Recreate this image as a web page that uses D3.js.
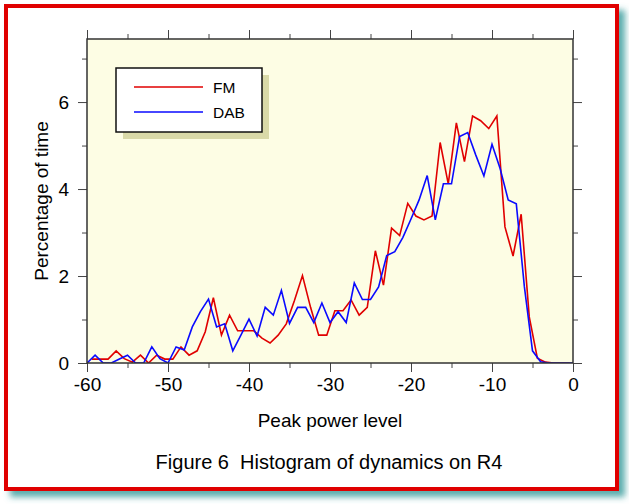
<!DOCTYPE html>
<html><head><meta charset="utf-8">
<script src="https://cdn.jsdelivr.net/npm/d3@7"></script>
<style>body{margin:0;background:#fff;}svg{display:block;font-family:"Liberation Sans",Arial,sans-serif;}</style>
</head><body>
<script>
// DAB histogram at integer levels -60..0
const dabLevels = d3.range(-60, 1);
const dabValues = [0,0.18,0,0,0.09,0.18,0,0,0.37,0.1,
  0,0.37,0.3,0.83,1.18,1.47,0.83,0.9,0.28,0.64,
  1.01,0.62,1.28,1.1,1.67,0.91,1.28,1.28,0.93,1.38,
  0.93,1.18,0.93,1.84,1.46,1.46,1.75,2.47,2.56,2.89,
  3.31,3.75,4.31,3.29,4.12,4.12,5.21,5.3,4.78,4.3,
  5.03,4.47,3.75,3.66,1.75,0.28,0.03,0,0,0,0];
// FM histogram, levels offset by 0.6 dB
const fmLevels = [-59.4,-58.4,-57.4,-56.4,-55.4,-54.4,-53.4,-52.4,-51.4,-50.4,
  -49.4,-48.4,-47.4,-46.4,-45.4,-44.4,-43.4,-42.4,-41.4,-40.4,
  -39.4,-38.4,-37.4,-36.4,-35.4,-34.4,-33.4,-32.4,-31.4,-30.4,
  -29.4,-28.4,-27.4,-26.4,-25.4,-24.4,-23.4,-22.4,-21.4,-20.4,
  -19.4,-18.4,-17.4,-16.4,-15.4,-14.4,-13.4,-12.4,-11.4,-10.4,
  -9.4,-8.4,-7.4,-6.4,-5.4,-4.4,-3.4,-2.4,-1.4,-0.4];
const fmValues = [0.09,0.09,0.09,0.28,0.1,0.02,0.18,0,0.18,0.09,
  0.09,0.37,0.18,0.28,0.72,1.5,0.64,1.1,0.74,0.74,
  0.74,0.57,0.46,0.64,0.9,1.43,2.01,1.28,0.64,0.64,
  1.2,1.2,1.45,1.1,1.28,2.58,1.79,3.1,2.93,3.67,
  3.38,3.29,3.38,5.07,4.12,5.52,4.63,5.68,5.57,5.39,
  5.68,3.13,2.46,3.42,1.06,0.11,0.02,0,0,0];
const xMajorTicks = [-60,-50,-40,-30,-20,-10,0];
const xMinorTicks = [-55,-45,-35,-25,-15,-5];
const yMajorTicks = [0,2,4,6];
const yMinorTicks = [1,3,5,7];
const seriesNames = ["FM","DAB"];
const seriesColors = ["#e00000","#0a0aff"];
const xTitle = "Peak power level";
const yTitle = "Percentage of time";
const caption = "Figure 6  Histogram of dynamics on R4";

const W = 629, H = 504;
const L = 87, R = 573, T = 39, B = 363;

const svg = d3.select("body").append("svg").attr("width", W).attr("height", H);
const defs = svg.append("defs");
const f = defs.append("filter").attr("id","sh").attr("x","-5%").attr("y","-5%").attr("width","115%").attr("height","115%");
f.append("feDropShadow").attr("dx",6).attr("dy",6).attr("stdDeviation",3).attr("flood-color","#3f9f9f").attr("flood-opacity",0.85);
defs.append("clipPath").attr("id","clip").append("rect").attr("x",L).attr("y",T).attr("width",R-L).attr("height",B-T);

svg.append("rect").attr("x",0).attr("y",0).attr("width",W).attr("height",H).attr("fill","#fff");
svg.append("rect").attr("x",6).attr("y",6).attr("width",611).attr("height",483)
  .attr("fill","#fff").attr("stroke","#e00000").attr("stroke-width",4).attr("filter","url(#sh)");

const x = d3.scaleLinear().domain([-60,0]).range([L,R]);
const y = d3.scaleLinear().domain([0,7.45]).range([B,T]);

svg.append("rect").attr("x",L).attr("y",T).attr("width",R-L).attr("height",B-T).attr("fill","#fdfde4");

const g = svg.append("g").attr("clip-path","url(#clip)");
const line = d3.line().x(d=>x(d[0])).y(d=>y(d[1]));
g.append("path").datum(fmLevels.map((v,i)=>[v,fmValues[i]])).attr("d",line)
  .attr("fill","none").attr("stroke",seriesColors[0]).attr("stroke-width",1.6);
g.append("path").datum(dabLevels.map((v,i)=>[v,dabValues[i]])).attr("d",line)
  .attr("fill","none").attr("stroke",seriesColors[1]).attr("stroke-width",1.6);

// axes
const axColor = "#444";
const fmt = d => String(d);
function addAxis(axis, tx, ty){
  const a = svg.append("g").attr("transform",`translate(${tx},${ty})`).call(axis);
  a.select(".domain").remove();
  a.selectAll(".tick line").attr("stroke",axColor).attr("stroke-width",1);
  return a;
}
const bx = addAxis(d3.axisBottom(x).tickValues(xMajorTicks).tickSize(9).tickPadding(6).tickFormat(fmt),0,B);
bx.selectAll("text").attr("font-size",19).attr("fill","#000").attr("font-family","Liberation Sans, Arial, sans-serif");
addAxis(d3.axisBottom(x).tickValues(xMinorTicks).tickSize(5).tickFormat(""),0,B);
addAxis(d3.axisTop(x).tickValues(xMajorTicks).tickSize(9).tickFormat(""),0,T);
addAxis(d3.axisTop(x).tickValues(xMinorTicks).tickSize(5).tickFormat(""),0,T);
const ly = addAxis(d3.axisLeft(y).tickValues(yMajorTicks).tickSize(9).tickPadding(9).tickFormat(fmt),L,0);
ly.selectAll("text").attr("font-size",19).attr("fill","#000").attr("font-family","Liberation Sans, Arial, sans-serif");
addAxis(d3.axisLeft(y).tickValues(yMinorTicks).tickSize(5).tickFormat(""),L,0);
addAxis(d3.axisRight(y).tickValues(yMajorTicks).tickSize(9).tickFormat(""),R,0);
addAxis(d3.axisRight(y).tickValues(yMinorTicks).tickSize(5).tickFormat(""),R,0);

svg.append("rect").attr("x",L).attr("y",T).attr("width",R-L).attr("height",B-T)
  .attr("fill","none").attr("stroke","#333").attr("stroke-width",1.5);

// legend
svg.append("rect").attr("x",123).attr("y",75).attr("width",146).attr("height",64).attr("fill","#d9d9a8");
svg.append("rect").attr("x",116).attr("y",68).attr("width",146).attr("height",64).attr("fill","#fff").attr("stroke","#111").attr("stroke-width",1.5);
seriesNames.forEach((n,i)=>{
  const yy = 87 + i*25;
  svg.append("line").attr("x1",134).attr("x2",203).attr("y1",yy).attr("y2",yy).attr("stroke",seriesColors[i]).attr("stroke-width",1.6);
  svg.append("text").attr("x",213).attr("y",yy+5.5).attr("font-size",15.5).attr("fill","#000").text(n);
});

svg.append("text").attr("x",(L+R)/2).attr("y",427).attr("text-anchor","middle").attr("font-size",19).text(xTitle);
svg.append("text").attr("transform",`translate(48,${(T+B)/2}) rotate(-90)`).attr("text-anchor","middle").attr("font-size",19).text(yTitle);
svg.append("text").attr("x",329).attr("y",469).attr("text-anchor","middle").attr("font-size",20)
  .style("white-space","pre").attr("xml:space","preserve").text(caption);
</script>
</body></html>
